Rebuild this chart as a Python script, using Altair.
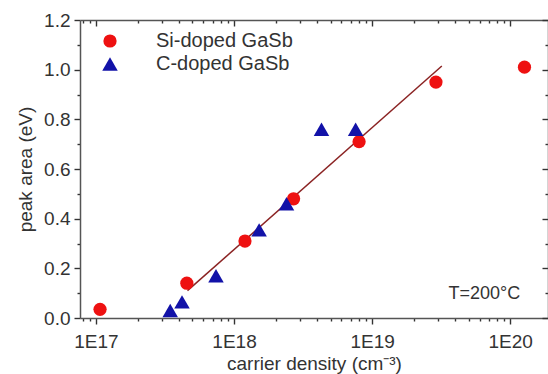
import altair as alt
import pandas as pd

# ---- data ----
si_x = [1.07e17, 4.55e17, 1.2e18, 2.7e18, 8.05e18, 2.9e19, 1.27e20]
si_y = [0.035, 0.14, 0.31, 0.48, 0.71, 0.95, 1.01]
c_x = [3.45e17, 4.2e17, 7.4e17, 1.52e18, 2.4e18, 4.3e18, 7.6e18]
c_y = [0.03, 0.065, 0.17, 0.355, 0.46, 0.76, 0.76]
fit_x = [4.6e17, 3.2e19]
fit_y = [0.11, 1.015]
series = ["Si-doped GaSb", "C-doped GaSb"]
colors = ["#ee1111", "#1212a8"]
shapes = ["circle", "triangle-up"]
x_major = [1e17, 1e18, 1e19, 1e20]
x_minor = [8e16, 9e16] + [m * 10 ** e for e in (17, 18, 19) for m in range(2, 10)]
y_major = [0.0, 0.2, 0.4, 0.6, 0.8, 1.0, 1.2]
y_minor = [0.1, 0.3, 0.5, 0.7, 0.9, 1.1]
note_x = [6.5e19]
note_y = [0.097]
note_text = ["T=200°C"]

FONT = "Liberation Sans"
x_domain = [7.66e16, 1.88e20]
y_domain = [0.0, 1.2]

df = pd.DataFrame({
    "x": si_x + c_x,
    "y": si_y + c_y,
    "series": [series[0]] * len(si_x) + [series[1]] * len(c_x),
})
fit_df = pd.DataFrame({"x": fit_x, "y": fit_y})
note_df = pd.DataFrame({"x": note_x, "y": note_y, "t": note_text})

xscale = alt.Scale(type="log", domain=x_domain, nice=False)
yscale = alt.Scale(domain=y_domain, nice=False, zero=False)

FRAME = "#555555"
TICK = "#333333"
AX = dict(domainColor=FRAME, domainWidth=1.5, tickColor=TICK, tickWidth=1.4,
          labelColor="#333333", labelFont=FONT, titleFont=FONT, titleColor="#333333",
          grid=False)


def tick_axis(orient, values, size, inward):
    # inward ticks: axis pulled into the plot by its tick length
    if inward:
        return alt.Axis(orient=orient, values=values, tickSize=size, offset=-size,
                        labels=False, domain=False, **AX)
    return alt.Axis(orient=orient, values=values, tickSize=size,
                    labels=False, domain=False, **AX)


def frame_axis(orient):
    return alt.Axis(orient=orient, ticks=False, labels=False, domain=True, **AX)


main_x_axis = alt.Axis(orient="bottom", values=x_major, tickSize=6,
                       labelExpr="'1E' + round(log(datum.value)/LN10)",
                       labelFontSize=19, labelPadding=8, titleFontSize=19,
                       titlePadding=3, titleFontWeight="normal", **AX)
main_y_axis = alt.Axis(orient="left", values=y_major, tickSize=6,
                       format=".1f", labelFontSize=19, labelPadding=4,
                       titleFontSize=19, titlePadding=8, titleFontWeight="normal", **AX)

line = alt.Chart(fit_df).mark_line(color="#8b2323", strokeWidth=1.5).encode(
    x=alt.X("x:Q", scale=xscale, axis=None),
    y=alt.Y("y:Q", scale=yscale, axis=None),
)

points = alt.Chart(df).mark_point(filled=True, opacity=1).encode(
    x=alt.X("x:Q", scale=xscale, axis=main_x_axis, title="carrier density (cm⁻³)"),
    y=alt.Y("y:Q", scale=yscale, axis=main_y_axis, title="peak area (eV)"),
    color=alt.Color("series:N", scale=alt.Scale(domain=series, range=colors),
                    legend=alt.Legend(orient="none", legendX=20, legendY=11, title=None,
                                      labelFont=FONT, labelFontSize=20, labelColor="#333333",
                                      symbolSize=180, labelOffset=36, rowPadding=3,
                                      padding=0, symbolStrokeWidth=0)),
    shape=alt.Shape("series:N", scale=alt.Scale(domain=series, range=shapes)),
    size=alt.Size("series:N", scale=alt.Scale(domain=series, range=[175, 240]), legend=None),
)

note = alt.Chart(note_df).mark_text(font=FONT, fontSize=18, color="#333333").encode(
    x=alt.X("x:Q", scale=xscale, axis=None),
    y=alt.Y("y:Q", scale=yscale, axis=None),
    text="t:N",
)


def axis_layer(xa, ya):
    return alt.Chart(df).mark_point(opacity=0).encode(
        x=alt.X("x:Q", scale=xscale, axis=xa, title=None),
        y=alt.Y("y:Q", scale=yscale, axis=ya, title=None),
    )


layers = [
    axis_layer(tick_axis("bottom", x_minor, 3, False), tick_axis("left", y_minor, 3, False)),
    axis_layer(tick_axis("top", x_major, 6, True), tick_axis("right", y_major, 6, True)),
    axis_layer(tick_axis("top", x_minor, 3, True), tick_axis("right", y_minor, 3, True)),
    axis_layer(frame_axis("top"), frame_axis("right")),
    line, points, note,
]

chart = alt.layer(*layers).resolve_axis(
    x="independent", y="independent"
).properties(
    width=468, height=298,
    padding={"left": 80, "top": 20, "right": 0, "bottom": 56},
    autosize=alt.AutoSizeParams(type="none"),
    background="white",
).configure_view(stroke=None)

chart.save("out.html", embed_options={"renderer": "svg", "actions": False})
